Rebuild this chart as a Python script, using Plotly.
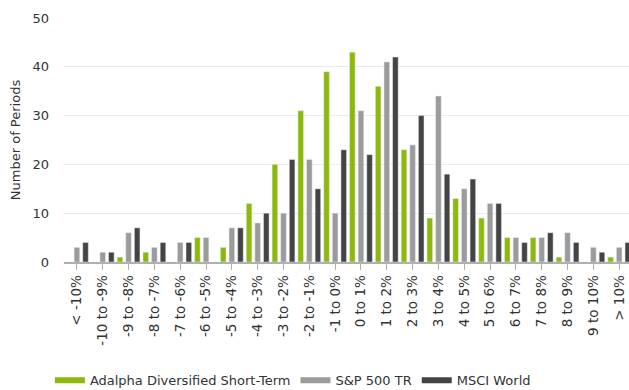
import plotly.graph_objects as go

categories = ["< -10%", "-10 to -9%", "-9 to -8%", "-8 to -7%", "-7 to -6%", "-6 to -5%",
              "-5 to -4%", "-4 to -3%", "-3 to -2%", "-2 to -1%", "-1 to 0%", "0 to 1%",
              "1 to 2%", "2 to 3%", "3 to 4%", "4 to 5%", "5 to 6%", "6 to 7%",
              "7 to 8%", "8 to 9%", "9 to 10%", "> 10%"]
adalpha = [0, 0, 1, 2, 0, 5, 3, 12, 20, 31, 39, 43, 36, 23, 9, 13, 9, 5, 5, 1, 0, 1]
sp500 = [3, 2, 6, 3, 4, 5, 7, 8, 10, 21, 10, 31, 41, 24, 34, 15, 12, 5, 5, 6, 3, 3]
msci = [4, 2, 7, 4, 4, 0, 7, 10, 21, 15, 23, 22, 42, 30, 18, 17, 12, 4, 6, 4, 2, 4]

names = ["Adalpha Diversified Short-Term", "S&P 500 TR", "MSCI World"]
colors = ["#8DB90B", "#9B9B9B", "#444444"]
series = [adalpha, sp500, msci]

FONT = "DejaVu Sans"
fig = go.Figure()
xs = list(range(len(categories)))
for name, color, vals in zip(names, colors, series):
    fig.add_trace(go.Bar(x=xs, y=vals, name=name, marker_color=color,
                         showlegend=False))
for name, color in zip(names, colors):
    fig.add_trace(go.Scatter(x=[None], y=[None], mode="lines", name=name,
                             line=dict(color=color, width=6)))

fig.update_layout(
    width=629, height=390,
    margin=dict(l=64, r=0, t=18, b=128, autoexpand=False),
    paper_bgcolor="white", plot_bgcolor="white",
    barmode="group", bargap=0.0, bargroupgap=0.35,
    font=dict(family=FONT, size=13, color="#444444"),
    legend=dict(orientation="h", x=-0.025, xanchor="left", y=-0.485, yanchor="middle",
                font=dict(size=13, color="#333333"), itemwidth=30,
                tracegroupgap=0),
)
fig.update_xaxes(
    tickmode="array", tickvals=xs, ticktext=categories,
    range=[-0.5, 21.38], tickangle=-90, automargin=False,
    showline=True, linecolor="#B0B0B0", linewidth=1.5,
    ticks="outside", ticklen=6, tickcolor="#B0B0B0", tickwidth=1,
    showgrid=False, zeroline=False,
    tickfont=dict(size=13.5, color="#333333"),
)
fig.update_yaxes(
    range=[0, 50], tickvals=[0, 10, 20, 30, 40, 50], automargin=False,
    showgrid=True, gridcolor="#EBEBEB", gridwidth=1,
    zeroline=False, showline=False, ticks="",
    ticklabelstandoff=14,
    tickfont=dict(size=13, color="#333333"),
    title=dict(text="Number of Periods", font=dict(size=13, color="#333333"), standoff=8),
)

fig.write_html("out.html", config={"displayModeBar": False},
               post_script="document.body.style.margin='0';document.body.style.overflow='hidden';")
